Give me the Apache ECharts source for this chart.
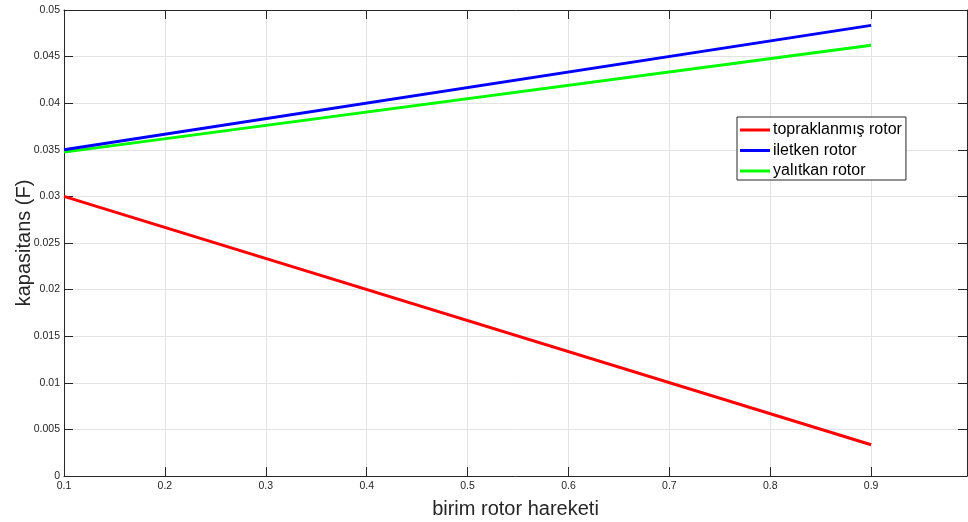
<!DOCTYPE html>
<html>
<head>
<meta charset="utf-8">
<script src="https://cdn.jsdelivr.net/npm/echarts@6/dist/echarts.min.js"></script>
<style>
html,body{margin:0;padding:0;background:#fff;}
#chart{width:968px;height:522px;}
</style>
</head>
<body>
<div id="chart"></div>
<script>
// x positions (birim rotor hareketi)
const xValues = [0.1, 0.9];
// series values (kapasitans, F)
const topraklanmis = [0.0300, 0.00335];
const iletken = [0.0350, 0.04835];
const yalitkan = [0.03475, 0.04622];
const seriesNames = ['topraklanmış rotor', 'iletken rotor', 'yalıtkan rotor'];
const seriesColors = ['#ff0000', '#0000ff', '#00ff00'];

const font = 'Liberation Sans, Arial, Helvetica, sans-serif';
const axisColor = '#262626';
const gridColor = '#e3e3e3';

function pairs(ys) { return xValues.map((x, i) => [x, ys[i]]); }
const allData = [topraklanmis, iletken, yalitkan];

const chart = echarts.init(document.getElementById('chart'), null, {renderer: 'canvas'});
chart.setOption({
  animation: false,
  backgroundColor: '#ffffff',
  grid: {left: 64, right: 1, top: 10, bottom: 46, containLabel: false, outerBoundsMode: 'none'},
  legend: {
    orient: 'vertical',
    left: 737, top: 117,
    data: seriesNames,
    icon: 'rect',
    itemWidth: 30, itemHeight: 3,
    itemGap: 4.5,
    padding: [5, 4, 1, 3],
    backgroundColor: '#ffffff',
    borderColor: axisColor,
    borderWidth: 1,
    borderRadius: 0,
    textStyle: {fontFamily: font, fontSize: 16, color: '#000', padding: [0,0,0,-2]}
  },
  xAxis: [{
    type: 'value', min: 0.1, max: 0.995, interval: 0.1,
    name: 'birim rotor hareketi', nameLocation: 'middle', nameGap: 23, nameMoveOverlap: false,
    nameTextStyle: {fontFamily: font, fontSize: 20, color: axisColor},
    axisLine: {show: true, lineStyle: {color: axisColor, width: 1}},
    axisTick: {show: true, inside: true, length: 9, lineStyle: {color: axisColor}},
    axisLabel: {fontFamily: font, fontSize: 10.5, color: axisColor, margin: 5, showMaxLabel: false},
    splitLine: {show: true, lineStyle: {color: gridColor, width: 1}}
  }, {
    type: 'value', min: 0.1, max: 0.995, interval: 0.1, position: 'top',
    axisLine: {show: true, onZero: false, lineStyle: {color: axisColor, width: 1}},
    axisTick: {show: true, inside: true, length: 9, lineStyle: {color: axisColor}},
    axisLabel: {show: false},
    splitLine: {show: false}
  }],
  yAxis: [{
    type: 'value', min: 0, max: 0.05, interval: 0.005,
    name: 'kapasitans (F)', nameLocation: 'middle', nameGap: 30, nameRotate: 90, nameMoveOverlap: false,
    nameTextStyle: {fontFamily: font, fontSize: 20, color: axisColor},
    axisLine: {show: true, lineStyle: {color: axisColor, width: 1}},
    axisTick: {show: true, inside: true, length: 9, lineStyle: {color: axisColor}},
    axisLabel: {fontFamily: font, fontSize: 10.5, color: axisColor, margin: 4},
    splitLine: {show: true, lineStyle: {color: gridColor, width: 1}}
  }, {
    type: 'value', min: 0, max: 0.05, interval: 0.005, position: 'right',
    axisLine: {show: true, onZero: false, lineStyle: {color: axisColor, width: 1}},
    axisTick: {show: true, inside: true, length: 9, lineStyle: {color: axisColor}},
    axisLabel: {show: false},
    splitLine: {show: false}
  }],
  series: seriesNames.map((name, i) => ({
    name: name,
    type: 'line',
    xAxisIndex: 0, yAxisIndex: 0,
    data: pairs(allData[i]),
    symbol: 'none',
    lineStyle: {color: seriesColors[i], width: 3},
    itemStyle: {color: seriesColors[i]},
    z: 3 - i + 2
  }))
});
</script>
</body>
</html>
